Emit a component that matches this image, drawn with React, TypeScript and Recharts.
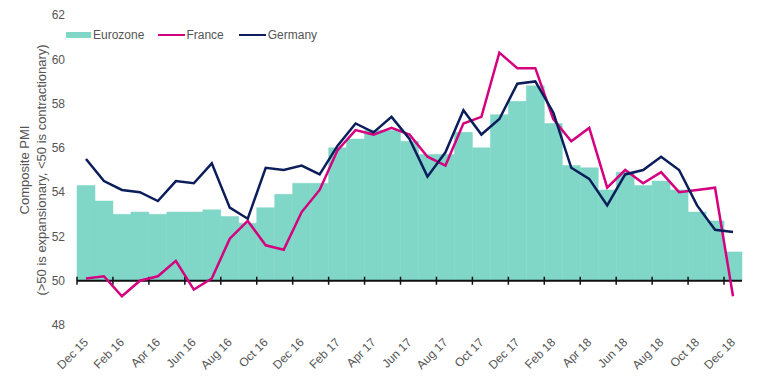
import { ComposedChart, Bar, Line, XAxis, YAxis, ReferenceLine, Legend } from "recharts"

const months = [
  "Dec 15", "Jan 16", "Feb 16", "Mar 16", "Apr 16", "May 16", "Jun 16", "Jul 16", "Aug 16", "Sep 16", "Oct 16", "Nov 16",
  "Dec 16", "Jan 17", "Feb 17", "Mar 17", "Apr 17", "May 17", "Jun 17", "Jul 17", "Aug 17", "Sep 17", "Oct 17", "Nov 17",
  "Dec 17", "Jan 18", "Feb 18", "Mar 18", "Apr 18", "May 18", "Jun 18", "Jul 18", "Aug 18", "Sep 18", "Oct 18", "Nov 18",
  "Dec 18",
]

const eurozone = [
  54.3, 53.6, 53.0, 53.1, 53.0, 53.1, 53.1, 53.2, 52.9, 52.6, 53.3, 53.9,
  54.4, 54.4, 56.0, 56.4, 56.8, 56.8, 56.3, 55.7, 55.7, 56.7, 56.0, 57.5,
  58.1, 58.8, 57.1, 55.2, 55.1, 54.1, 54.9, 54.3, 54.5, 54.1, 53.1, 52.7,
  51.3,
]

const france = [
  50.1, 50.2, 49.3, 50.0, 50.2, 50.9, 49.6, 50.1, 51.9, 52.7, 51.6, 51.4,
  53.1, 54.1, 55.9, 56.8, 56.6, 56.9, 56.6, 55.6, 55.2, 57.1, 57.4, 60.3,
  59.6, 59.6, 57.3, 56.3, 56.9, 54.2, 55.0, 54.4, 54.9, 54.0, 54.1, 54.2,
  49.3,
]

const germany = [
  55.5, 54.5, 54.1, 54.0, 53.6, 54.5, 54.4, 55.3, 53.3, 52.8, 55.1, 55.0,
  55.2, 54.8, 56.1, 57.1, 56.7, 57.4, 56.4, 54.7, 55.8, 57.7, 56.6, 57.3,
  58.9, 59.0, 57.6, 55.1, 54.6, 53.4, 54.8, 55.0, 55.6, 55.0, 53.4, 52.3,
  52.2,
]

const yTicks = [48, 50, 52, 54, 56, 58, 60, 62]

const data = months.map((month, i) => ({
  month,
  eurozone: eurozone[i],
  france: france[i],
  germany: germany[i],
}))

const FONT = '"Liberation Sans", Arial, Helvetica, sans-serif'
const TEXT = "#555"
const TEAL = "#80d7c7"
const MAGENTA = "#d5007f"
const NAVY = "#0b1d5a"

// the 50 line doubles as the category axis, ticks between every other month
function AxisAt50(props: any) {
  const { x1, y1, x2 } = props
  const step = (x2 - x1) / months.length
  return (
    <g>
      <line x1={x1} y1={y1} x2={x2} y2={y1} stroke="#111" strokeWidth={2} />
      {months.map((_, i) =>
        i % 2 === 0 ? (
          <line key={i} x1={x1 + i * step} x2={x1 + i * step} y1={y1 - 4} y2={y1 + 4} stroke="#111" strokeWidth={1.5} />
        ) : null
      )}
    </g>
  )
}

function MonthTick({ x, y, payload }: any) {
  return (
    <text
      x={x + 3}
      y={y + 18}
      transform={`rotate(-45, ${x + 3}, ${y + 18})`}
      textAnchor="end"
      fontSize={12}
      fontFamily={FONT}
      fill={TEXT}
    >
      {payload.value}
    </text>
  )
}

function YTitle({ viewBox }: any) {
  const cy = viewBox.y + viewBox.height / 2
  const x1 = viewBox.x + 29
  const x2 = viewBox.x + 46
  return (
    <g fontFamily={FONT} fontSize={13} fill={TEXT} textAnchor="middle">
      <text x={x1} y={cy} transform={`rotate(-90, ${x1}, ${cy})`}>Composite PMI</text>
      <text x={x2} y={cy} transform={`rotate(-90, ${x2}, ${cy})`}>
        (&gt;50 is expansionary, &lt;50 is contractionary)
      </text>
    </g>
  )
}

function LegendContent() {
  const label = { fontSize: 12, color: TEXT, fontFamily: FONT, lineHeight: "14px" }
  return (
    <div style={{ display: "flex", alignItems: "center" }}>
      <span style={{ width: 25, height: 6, background: TEAL, marginRight: 2 }} />
      <span style={{ ...label, marginRight: 14 }}>Eurozone</span>
      <span style={{ width: 27, height: 2.5, background: MAGENTA, marginRight: 1 }} />
      <span style={{ ...label, marginRight: 15 }}>France</span>
      <span style={{ width: 27, height: 2.5, background: NAVY, marginRight: 2 }} />
      <span style={label}>Germany</span>
    </div>
  )
}

export default function App() {
  return (
    <div style={{ position: "absolute", left: 0, top: 0, width: 757, height: 379, background: "#fff" }}>
      <ComposedChart
        width={757}
        height={379}
        data={data}
        margin={{ top: 15, right: 15, bottom: 0, left: 0 }}
        barCategoryGap={0}
        barGap={0}
      >
        <XAxis
          dataKey="month"
          interval={1}
          axisLine={false}
          tickLine={false}
          tickSize={0}
          tickMargin={0}
          height={54}
          tick={<MonthTick />}
        />
        <YAxis
          domain={[48, 62]}
          ticks={yTicks}
          width={77}
          axisLine={false}
          tickLine={false}
          tickSize={0}
          tickMargin={12}
          tick={{ fontSize: 12, fontFamily: FONT, fill: TEXT }}
          label={{ content: <YTitle /> }}
        />
        <Legend
          layout="horizontal"
          verticalAlign="middle"
          align="center"
          wrapperStyle={{ top: 28, left: 66, width: "auto", height: "auto" }}
          content={<LegendContent />}
        />
        <Bar
          dataKey={(d: any) => [50, d.eurozone]}
          name="Eurozone"
          fill={TEAL}
          stroke={TEAL}
          strokeWidth={0.5}
          isAnimationActive={false}
        />
        <ReferenceLine y={50} shape={AxisAt50} />
        <Line
          dataKey="france"
          name="France"
          type="linear"
          stroke={MAGENTA}
          strokeWidth={2.5}
          dot={false}
          isAnimationActive={false}
        />
        <Line
          dataKey="germany"
          name="Germany"
          type="linear"
          stroke={NAVY}
          strokeWidth={2.5}
          dot={false}
          isAnimationActive={false}
        />
      </ComposedChart>
    </div>
  )
}
